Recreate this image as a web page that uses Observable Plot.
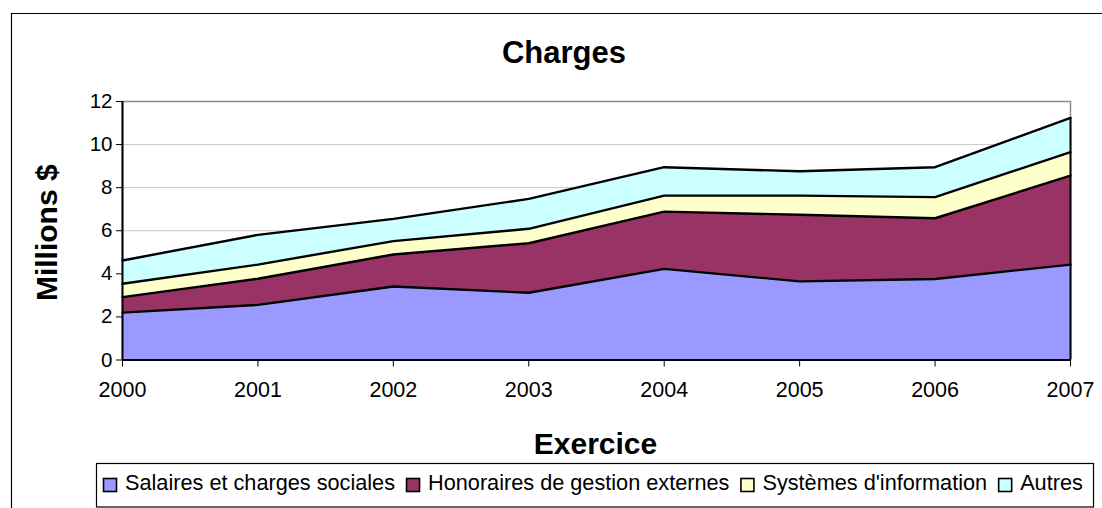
<!DOCTYPE html>
<html>
<head>
<meta charset="utf-8">
<script src="https://cdn.jsdelivr.net/npm/d3@7"></script>
<script src="https://cdn.jsdelivr.net/npm/@observablehq/plot@0.6"></script>
<style>
  html, body { margin: 0; padding: 0; background: #fff; overflow: hidden; }
</style>
</head>
<body>
<script>
// Charges par exercice, en millions de dollars
const years = [2000, 2001, 2002, 2003, 2004, 2005, 2006, 2007];
const series = [
  "Salaires et charges sociales",
  "Honoraires de gestion externes",
  "Systèmes d'information",
  "Autres"
];
const salaires   = [2.20, 2.56, 3.41, 3.12, 4.23, 3.65, 3.76, 4.43];
const honoraires = [0.72, 1.21, 1.49, 2.30, 2.66, 3.09, 2.82, 4.13];
const systemes   = [0.62, 0.66, 0.62, 0.67, 0.74, 0.89, 0.98, 1.09];
const autres     = [1.08, 1.38, 1.03, 1.39, 1.32, 1.13, 1.39, 1.59];
const colors = ["#9999FF", "#993366", "#FFFFCC", "#CCFFFF"];
const yTicks = [0, 2, 4, 6, 8, 10, 12];

const values = [salaires, honoraires, systemes, autres];
const rows = series.flatMap((s, i) =>
  years.map((year, j) => ({ year, series: s, value: values[i][j] }))
);
const lastYear = years[years.length - 1];
const lastTotal = d3.sum(values, v => v[v.length - 1]);

const font = "'Liberation Sans', Arial, Helvetica, sans-serif";

const svg = Plot.plot({
  width: 1102,
  height: 508,
  marginLeft: 122,
  marginRight: 32,
  marginTop: 101,
  marginBottom: 148.5,
  style: { fontFamily: font, fontSize: "20px", background: "#fff", overflow: "visible", color: "#000" },
  x: { type: "linear", domain: [years[0], lastYear] },
  y: { domain: [0, 12] },
  color: { domain: series, range: colors },
  marks: [
    Plot.gridY(yTicks.slice(1, -1), { stroke: "#c8c8c8", strokeOpacity: 1, strokeWidth: 1 }),
    Plot.frame({ stroke: "#8c8c8c", strokeWidth: 1.5 }),
    Plot.areaY(rows, { x: "year", y: "value", z: "series", fill: "series", order: series }),
    Plot.lineY(rows, Plot.stackY2({
      x: "year", y: "value", z: "series", order: series,
      stroke: "#000", strokeWidth: 2.4
    })),
    Plot.ruleX([lastYear], { y1: 0, y2: lastTotal, stroke: "#000", strokeWidth: 2 }),
    Plot.ruleY([0], { stroke: "#000", strokeWidth: 2 }),
    Plot.ruleX([years[0]], { stroke: "#000", strokeWidth: 2 }),
    Plot.axisY({ ticks: yTicks, tickSize: 6, tickPadding: 4, fontSize: 20.5, label: null, stroke: "#000" }),
    Plot.axisX({ ticks: years, tickFormat: "d", tickSize: 7, tickPadding: 15, fontSize: 21.5, label: null, stroke: "#000" }),
    Plot.text(["Charges"], {
      frameAnchor: "top", lineAnchor: "bottom", dx: -32.5, dy: -38.3,
      fontSize: 31, fontWeight: "bold", fill: "#000"
    }),
    Plot.text(["Exercice"], {
      frameAnchor: "bottom", lineAnchor: "bottom", dx: -1, dy: 93.5,
      fontSize: 30, fontWeight: "bold", fill: "#000"
    }),
    Plot.text(["Millions $"], {
      frameAnchor: "left", textAnchor: "middle", rotate: -90, dx: -75, dy: 2,
      fontSize: 30, fontWeight: "bold", fill: "#000"
    })
  ]
});

document.body.appendChild(svg);

const root = d3.select(svg);

// outer chart border
root.append("path")
  .attr("d", "M11.5,508 V13.5 H1102")
  .attr("fill", "none")
  .attr("stroke", "#000")
  .attr("stroke-width", 1.2);

// legend box
const legend = root.append("g")
  .attr("font-family", font)
  .attr("font-size", 21.7)
  .attr("text-anchor", "start");
legend.append("rect")
  .attr("x", 96.5).attr("y", 463.5)
  .attr("width", 997).attr("height", 43.5)
  .attr("fill", "#fff").attr("stroke", "#000").attr("stroke-width", 1.2);

let cx = 103;
series.forEach((name, i) => {
  legend.append("rect")
    .attr("x", cx + 0.5).attr("y", 478.5)
    .attr("width", 13).attr("height", 13)
    .attr("fill", colors[i]).attr("stroke", "#000").attr("stroke-width", 1.6);
  const t = legend.append("text")
    .attr("x", cx + 22).attr("y", 489.5)
    .attr("text-anchor", "start")
    .attr("fill", "#000")
    .text(name);
  cx = cx + 22 + t.node().getComputedTextLength() + 11;
});
</script>
</body>
</html>
